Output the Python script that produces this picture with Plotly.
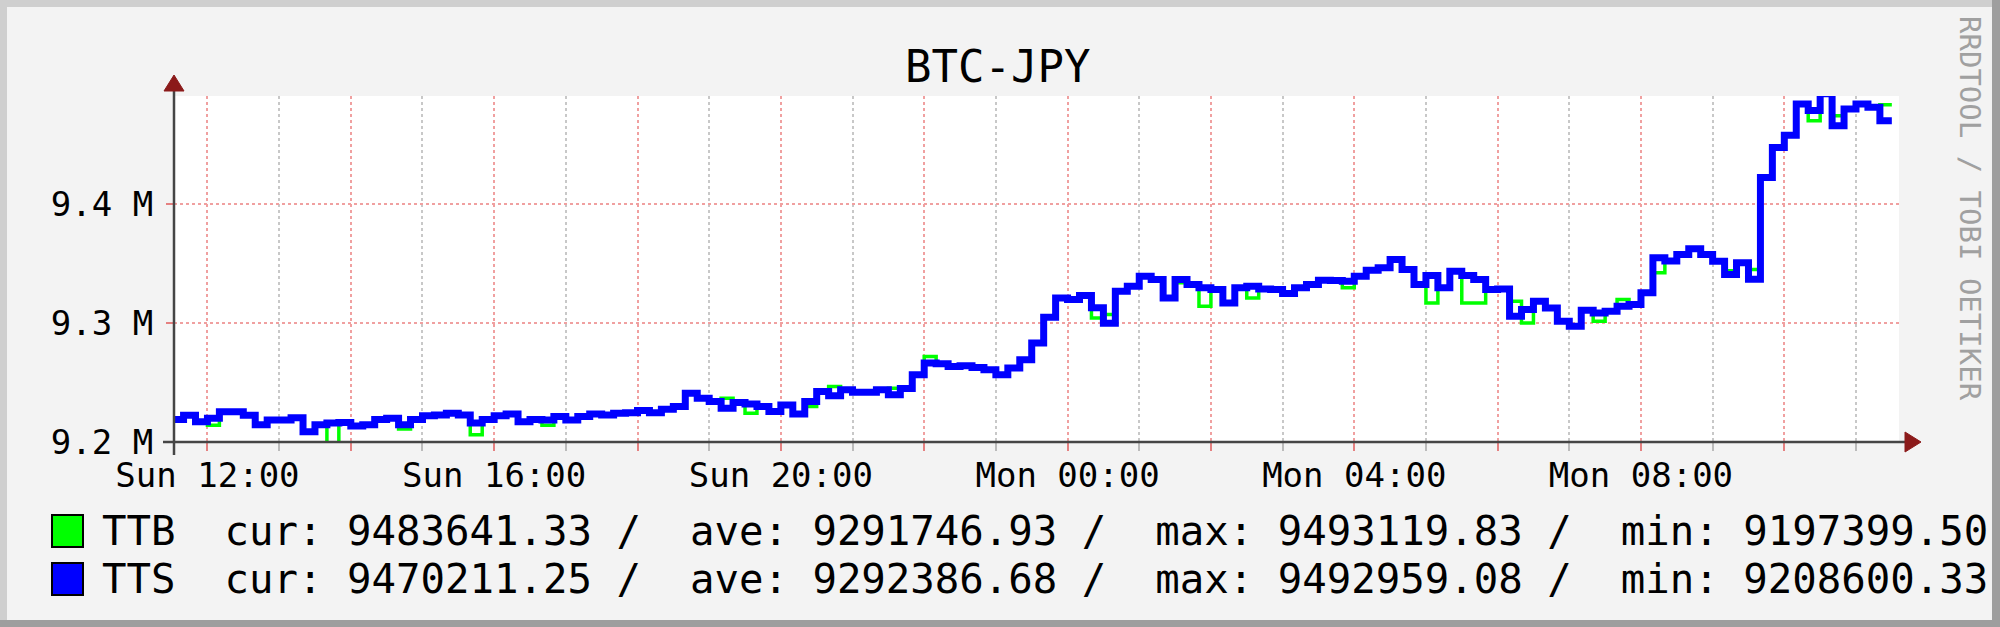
import plotly.graph_objects as go
import pandas as pd

# ---------------- data (10-minute samples) ----------------
START = "2024-04-07 11:30"   # a Sunday
STEP = "10min"

tts = [
    9219000, 9222500, 9217000, 9220000, 9225500, 9225500, 9222500, 9214500, 9218500, 9218500,
    9220500, 9208600, 9214500, 9216000, 9216500, 9213500, 9214500, 9219000, 9220000, 9214500,
    9219000, 9222000, 9222800, 9224200, 9222800, 9216000, 9219000, 9222000, 9223600, 9217000,
    9219000, 9218500, 9221400, 9218500, 9221400, 9223600, 9222800, 9224200, 9224700, 9226400,
    9224700, 9227600, 9229800, 9241000, 9236800, 9234000, 9228400, 9233200, 9232000, 9229800,
    9225600, 9231200, 9223600, 9234000, 9242500, 9239000, 9243900, 9241900, 9241900, 9243900,
    9239700, 9245000, 9256500, 9266400, 9265800, 9263600, 9264100, 9262700, 9260800, 9256500,
    9262200, 9269200, 9283300, 9305000, 9321200, 9319800, 9323200, 9313000, 9300000, 9326900,
    9331100, 9339500, 9336700, 9321200, 9336700, 9332500, 9329700, 9328300, 9317000, 9329700,
    9331100, 9328800, 9328300, 9324900, 9329700, 9332500, 9336100, 9335900, 9335300, 9339500,
    9344600, 9346600, 9353600, 9345200, 9332500, 9340100, 9329700, 9343700, 9340100, 9336700,
    9328300, 9328800, 9305800, 9311400, 9318400, 9312800, 9301500, 9297300, 9310800, 9308600,
    9310000, 9314200, 9315600, 9325500, 9355000, 9352200, 9357800, 9362600, 9357800, 9352000,
    9341000, 9350800, 9337000, 9422500, 9447800, 9458000, 9484400, 9478800, 9492959, 9466100,
    9480200, 9484400, 9481600, 9470211, 9470211,
]

ttb = [
    9219000, 9222500, 9217000, 9214000, 9225500, 9225500, 9222500, 9214500, 9218500, 9218500,
    9220500, 9208600, 9214500, 9197400, 9216500, 9213500, 9214500, 9219000, 9220000, 9211000,
    9219000, 9222000, 9222800, 9224200, 9222800, 9206000, 9219000, 9222000, 9223600, 9217000,
    9219000, 9214000, 9221400, 9218500, 9221400, 9223600, 9222800, 9224200, 9224700, 9226400,
    9224700, 9227600, 9229800, 9241000, 9236800, 9234000, 9236800, 9233200, 9224200, 9229800,
    9225600, 9231200, 9223600, 9229800, 9242500, 9246700, 9243900, 9241900, 9241900, 9243900,
    9245300, 9245000, 9256500, 9272000, 9265800, 9263600, 9264100, 9262700, 9260800, 9256500,
    9262200, 9269200, 9283300, 9305000, 9321200, 9319800, 9323200, 9304400, 9307200, 9326900,
    9331100, 9339500, 9336700, 9321200, 9333900, 9332500, 9314200, 9328300, 9317000, 9329700,
    9321200, 9328800, 9328300, 9324900, 9329700, 9332500, 9336100, 9335900, 9329700, 9339500,
    9344600, 9346600, 9353600, 9345200, 9332500, 9317000, 9329700, 9343700, 9317000, 9317000,
    9328300, 9328800, 9318400, 9300100, 9318400, 9312800, 9301500, 9297300, 9310800, 9301500,
    9310000, 9319800, 9315600, 9325500, 9342300, 9352200, 9357800, 9362600, 9357800, 9352000,
    9344000, 9350800, 9345200, 9422500, 9447800, 9458000, 9484400, 9470300, 9493120, 9474500,
    9480200, 9484400, 9481600, 9483641, 9483641,
]

series_names = ["TTB", "TTS"]
series_colors = ["#00ff00", "#0000ff"]
stat_cur = ["9483641.33", "9470211.25"]
stat_ave = ["9291746.93", "9292386.68"]
stat_max = ["9493119.83", "9492959.08"]
stat_min = ["9197399.50", "9208600.33"]

x_major_ticks = ["2024-04-07 12:00", "2024-04-07 14:00", "2024-04-07 16:00", "2024-04-07 18:00",
                 "2024-04-07 20:00", "2024-04-07 22:00", "2024-04-08 00:00", "2024-04-08 02:00",
                 "2024-04-08 04:00", "2024-04-08 06:00", "2024-04-08 08:00", "2024-04-08 10:00"]
x_major_text = ["Sun 12:00", "", "Sun 16:00", "", "Sun 20:00", "", "Mon 00:00", "",
                "Mon 04:00", "", "Mon 08:00", ""]
y_ticks = [9.2e6, 9.3e6, 9.4e6]
y_tick_text = ["9.2 M", "9.3 M", "9.4 M"]
x_range = ["2024-04-07 11:32", "2024-04-08 11:36"]
y_range = [9.2e6, 9.4911e6]

title_text = "BTC-JPY"
watermark = "RRDTOOL / TOBI OETIKER"

# ---------------- layout geometry (pixels) ----------------
W, H = 2000, 627
L, R, T, B = 174, 1899, 96, 442
FONT = "DejaVu Sans Mono"
MAJ = "#f0a0a0"
MIN = "#c8c8c8"


def fx(x):
    return (x - L) / (R - L)


def fy(y):
    return (B - y) / (B - T)


times = pd.date_range(START, periods=len(tts), freq=STEP)

fig = go.Figure()
fig.add_trace(go.Scatter(x=times, y=ttb, mode="lines", line=dict(color=series_colors[0], width=3.5, shape="hv"),
                         name=series_names[0], showlegend=False, hoverinfo="skip"))
fig.add_trace(go.Scatter(x=times, y=tts, mode="lines", line=dict(color=series_colors[1], width=7, shape="hv"),
                         name=series_names[1], showlegend=False, hoverinfo="skip"))

shapes = []
# outer frame shading
shapes.append(dict(type="rect", xref="paper", yref="paper", x0=fx(0), x1=fx(W), y0=fy(0), y1=fy(7),
                   fillcolor="#cfcfcf", line=dict(width=0), layer="below"))
shapes.append(dict(type="rect", xref="paper", yref="paper", x0=fx(0), x1=fx(7), y0=fy(0), y1=fy(H),
                   fillcolor="#cfcfcf", line=dict(width=0), layer="below"))
shapes.append(dict(type="rect", xref="paper", yref="paper", x0=fx(0), x1=fx(W), y0=fy(620), y1=fy(H),
                   fillcolor="#9e9e9e", line=dict(width=0), layer="below"))
shapes.append(dict(type="rect", xref="paper", yref="paper", x0=fx(1992), x1=fx(W), y0=fy(0), y1=fy(H),
                   fillcolor="#9e9e9e", line=dict(width=0), layer="below"))
# axes
AX = "#454545"
ARROW = "#8b1a1a"
shapes.append(dict(type="line", xref="paper", yref="paper", x0=fx(L), x1=fx(L), y0=fy(455), y1=fy(88),
                   line=dict(color=AX, width=2.5), layer="above"))
shapes.append(dict(type="line", xref="paper", yref="paper", x0=fx(163), x1=fx(1907), y0=fy(B), y1=fy(B),
                   line=dict(color=AX, width=2.5), layer="above"))
shapes.append(dict(type="path", xref="paper", yref="paper",
                   path=f"M {fx(L)},{fy(75)} L {fx(L-10)},{fy(91)} L {fx(L+10)},{fy(91)} Z",
                   fillcolor=ARROW, line=dict(color=ARROW, width=1), layer="above"))
shapes.append(dict(type="path", xref="paper", yref="paper",
                   path=f"M {fx(1921)},{fy(B)} L {fx(1905)},{fy(B-10)} L {fx(1905)},{fy(B+10)} Z",
                   fillcolor=ARROW, line=dict(color=ARROW, width=1), layer="above"))

annotations = []
annotations.append(dict(text=title_text, xref="paper", yref="paper", x=fx(997), y=fy(66),
                        xanchor="center", yanchor="middle", showarrow=False,
                        font=dict(family=FONT, size=44, color="#000000")))
annotations.append(dict(text=watermark, xref="paper", yref="paper", x=fx(1970), y=fy(208),
                        xanchor="center", yanchor="middle", showarrow=False, textangle=90,
                        font=dict(family=FONT, size=29, color="#a0a0a0")))

box_tops = [515, 563]
for i, name in enumerate(series_names):
    y0 = box_tops[i]
    shapes.append(dict(type="rect", xref="paper", yref="paper", x0=fx(52), x1=fx(83), y0=fy(y0), y1=fy(y0 + 32),
                       fillcolor=series_colors[i], line=dict(color="#000000", width=2)))
    label = (f"{name}  cur: {stat_cur[i]} /  ave: {stat_ave[i]} /  "
             f"max: {stat_max[i]} /  min: {stat_min[i]}").replace(" ", "\u00a0")
    annotations.append(dict(text=label, xref="paper", yref="paper", x=fx(100), y=fy(y0 + 16),
                            xanchor="left", yanchor="middle", showarrow=False,
                            font=dict(family=FONT, size=40.7, color="#000000")))

fig.update_layout(
    width=W, height=H,
    margin=dict(l=L, r=W - R, t=T, b=H - B, pad=0),
    paper_bgcolor="#f3f3f3", plot_bgcolor="#ffffff",
    showlegend=False,
    shapes=shapes, annotations=annotations,
    xaxis=dict(
        type="date", range=x_range, tickmode="array", tickvals=x_major_ticks, ticktext=x_major_text,
        ticks="outside", ticklen=8, tickwidth=2, tickcolor="#e58080",
        showgrid=True, gridcolor=MAJ, griddash="dot", gridwidth=2,
        tickfont=dict(family=FONT, size=34, color="#000000"), ticklabelstandoff=-5,
        showline=False, zeroline=False,
        minor=dict(tickmode="linear", tick0="2024-04-07 12:00", dtick=3600000,
                   showgrid=True, gridcolor=MIN, griddash="dot", gridwidth=2,
                   ticks="outside", ticklen=8, tickwidth=2, tickcolor="#bbbbbb"),
    ),
    yaxis=dict(
        range=y_range, tickmode="array", tickvals=y_ticks, ticktext=y_tick_text,
        ticks="outside", ticklen=7, tickwidth=2, tickcolor="#e58080",
        showgrid=True, gridcolor=MAJ, griddash="dot", gridwidth=2,
        tickfont=dict(family=FONT, size=34, color="#000000"), ticklabelstandoff=6,
        showline=False, zeroline=False,
    ),
)

fig.write_html("out.html")
